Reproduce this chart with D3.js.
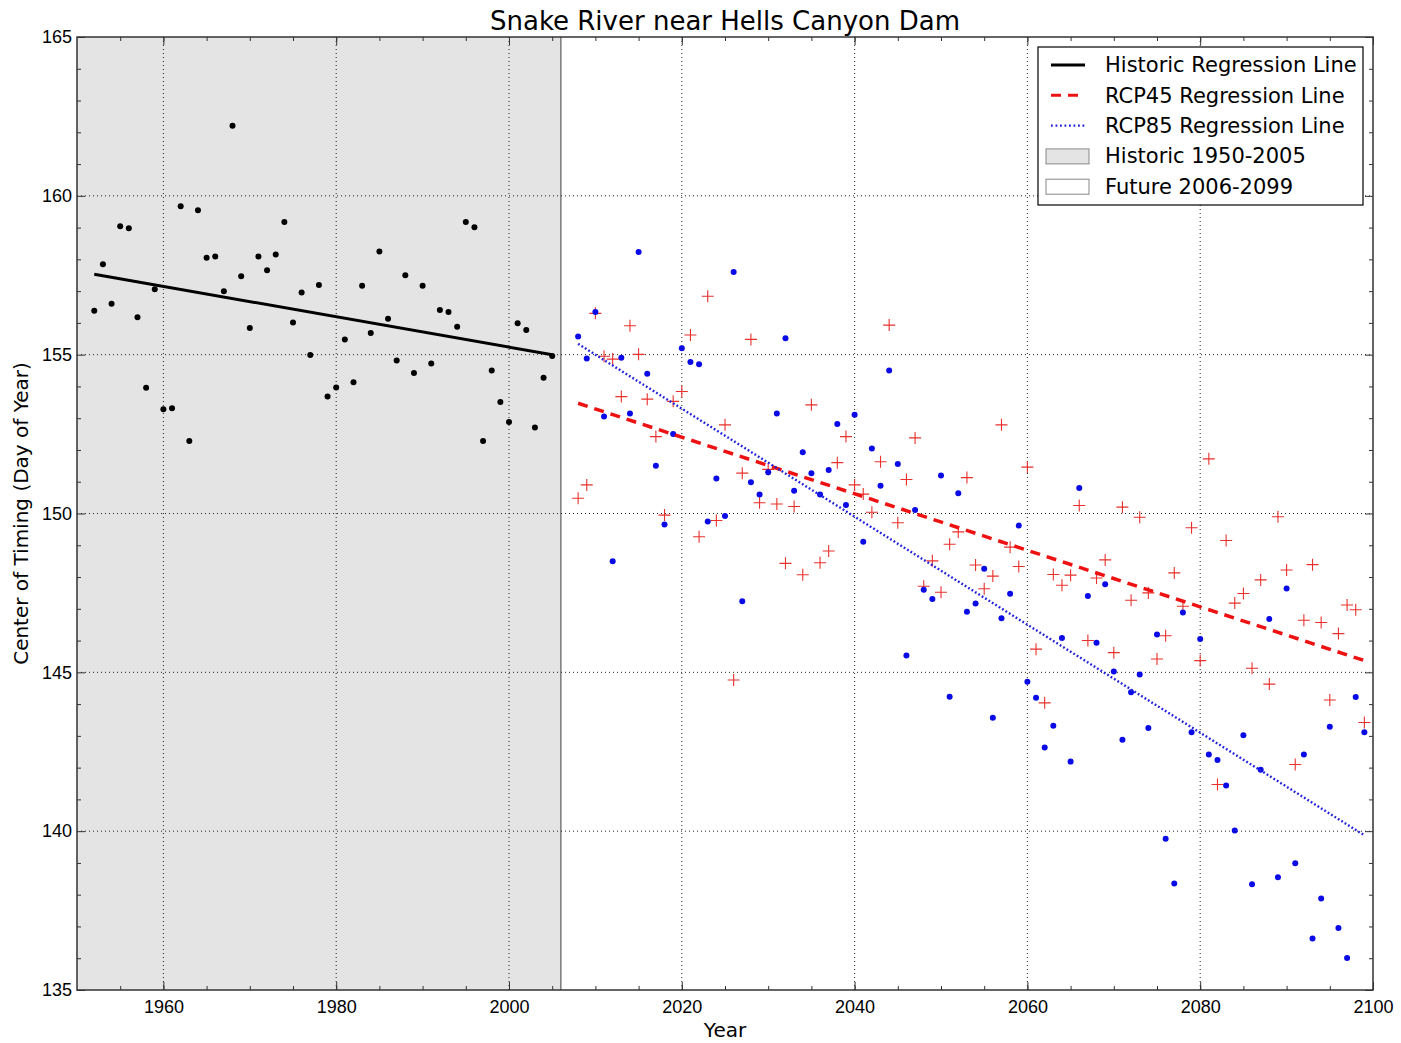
<!DOCTYPE html>
<meta charset="utf-8">
<style>

body {
	margin: 0;
	padding: 0;
	background: #fff;
}

svg {
	display: block;
	font-family: "DejaVu Sans", sans-serif;
}

.grid line {
	stroke: #222;
	stroke-width: 1;
	stroke-dasharray: 1, 3;
}

.axis text {
	font-size: 18px;
	fill: #000;
}

.axis path {
	display: none;
}

.axis line {
	stroke: #333;
	stroke-width: 1;
}

.legend text {
	font-size: 21px;
}

</style>
<body>
	<div id="chart"></div>
	<script src="https://cdn.jsdelivr.net/npm/d3@7"></script>
	<script>

	// ---- data ----
	var histYears = [1952, 1953, 1954, 1955, 1956, 1957, 1958, 1959, 1960, 1961,
		1962, 1963, 1964, 1965, 1966, 1967, 1968, 1969, 1970, 1971,
		1972, 1973, 1974, 1975, 1976, 1977, 1978, 1979, 1980, 1981,
		1982, 1983, 1984, 1985, 1986, 1987, 1988, 1989, 1990, 1991,
		1992, 1993, 1994, 1995, 1996, 1997, 1998, 1999, 2000, 2001,
		2002, 2003, 2004, 2005];
	var histValues = [156.38, 157.85, 156.6, 159.04, 158.98, 156.18, 153.96, 157.06, 153.28, 153.31,
		159.67, 152.28, 159.55, 158.05, 158.09, 157.0, 162.21, 157.47, 155.84, 158.09,
		157.66, 158.15, 159.18, 156.01, 156.96, 154.99, 157.19, 153.68, 153.97, 155.48,
		154.13, 157.17, 155.68, 158.25, 156.13, 154.82, 157.5, 154.42, 157.17, 154.72,
		156.41, 156.34, 155.88, 159.18, 159.01, 152.28, 154.5, 153.51, 152.88, 155.99,
		155.78, 152.71, 154.27, 154.96];

	var futureYears = [2008, 2009, 2010, 2011, 2012, 2013, 2014, 2015, 2016, 2017,
		2018, 2019, 2020, 2021, 2022, 2023, 2024, 2025, 2026, 2027,
		2028, 2029, 2030, 2031, 2032, 2033, 2034, 2035, 2036, 2037,
		2038, 2039, 2040, 2041, 2042, 2043, 2044, 2045, 2046, 2047,
		2048, 2049, 2050, 2051, 2052, 2053, 2054, 2055, 2056, 2057,
		2058, 2059, 2060, 2061, 2062, 2063, 2064, 2065, 2066, 2067,
		2068, 2069, 2070, 2071, 2072, 2073, 2074, 2075, 2076, 2077,
		2078, 2079, 2080, 2081, 2082, 2083, 2084, 2085, 2086, 2087,
		2088, 2089, 2090, 2091, 2092, 2093, 2094, 2095, 2096, 2097,
		2098, 2099];
	var rcp45Values = [150.48, 150.9, 156.3, 154.95, 154.86, 153.68, 155.91, 155.01, 153.6, 152.42,
		149.95, 153.53, 153.84, 155.62, 149.27, 156.84, 149.78, 152.79, 144.76, 151.27,
		155.48, 150.34, 151.39, 150.3, 148.43, 150.22, 148.07, 153.42, 148.45, 148.82,
		151.6, 152.42, 150.9, 150.61, 150.04, 151.63, 155.93, 149.71, 151.07, 152.38,
		147.71, 148.51, 147.52, 149.03, 149.42, 151.13, 148.38, 147.63, 148.03, 152.79,
		148.94, 148.33, 151.46, 145.73, 144.04, 148.08, 147.74, 148.06, 150.25, 146.0,
		147.97, 148.54, 145.62, 150.2, 147.27, 149.88, 147.5, 145.42, 146.15, 148.13,
		147.08, 149.55, 145.37, 151.72, 141.47, 149.15, 147.18, 147.48, 145.13, 147.91,
		144.63, 149.9, 148.22, 142.1, 146.64, 148.39, 146.57, 144.13, 146.22, 147.12,
		146.97, 143.42];
	var rcp85Values = [155.57, 154.88, 156.34, 153.05, 148.5, 154.9, 153.15, 158.23, 154.4, 151.5,
		149.65, 152.5, 155.2, 154.77, 154.7, 149.75, 151.1, 149.92, 157.6, 147.24,
		150.98, 150.6, 151.3, 153.15, 155.52, 150.72, 151.93, 151.27, 150.6, 151.37,
		152.82, 150.27, 153.11, 149.11, 152.05, 150.87, 154.5, 151.56, 145.53, 150.11,
		147.6, 147.31, 151.2, 144.23, 150.64, 146.91, 147.17, 148.26, 143.57, 146.7,
		147.47, 149.62, 144.7, 144.2, 142.63, 143.32, 146.08, 142.19, 150.8, 147.4,
		145.93, 147.77, 145.03, 142.88, 144.37, 144.93, 143.25, 146.19, 139.76, 138.35,
		146.88, 143.11, 146.05, 142.41, 142.24, 141.44, 140.02, 143.02, 138.33, 141.93,
		146.68, 138.55, 147.64, 138.99, 142.41, 136.62, 137.88, 143.29, 136.95, 136.01,
		144.22, 143.11];

	// regression line end points
	var histFit = [[1952, 157.53], [2005, 155.0]];
	var rcp45Fit = [[2008, 153.47], [2099, 145.37]];
	var rcp85Fit = [[2008, 155.34], [2099, 139.87]];

	var historicSpan = [1950, 2006];

	var xMajorTicks = [1960, 1980, 2000, 2020, 2040, 2060, 2080, 2100];
	var xMinorTicks = [1955, 1960, 1965, 1970, 1975, 1980, 1985, 1990, 1995, 2000, 2005,
		2010, 2015, 2020, 2025, 2030, 2035, 2040, 2045, 2050, 2055, 2060, 2065, 2070,
		2075, 2080, 2085, 2090, 2095];
	var yMajorTicks = [135, 140, 145, 150, 155, 160, 165];
	var yMinorTicks = [136, 137, 138, 139, 141, 142, 143, 144, 146, 147, 148, 149,
		151, 152, 153, 154, 156, 157, 158, 159, 161, 162, 163, 164];

	var legendLabels = ["Historic Regression Line", "RCP45 Regression Line", "RCP85 Regression Line",
		"Historic 1950-2005", "Future 2006-2099"];

	// ---- layout ----
	var svgWidth = 1401,
		svgHeight = 1043,
		plotLeft = 77, plotRight = 1373, plotTop = 37, plotBottom = 990;

	var histColor = "#000",
		rcp45Color = "#e8312c",
		rcp85Color = "#0a0ae6",
		shadeColor = "#e4e4e4";

	var x = d3.scaleLinear().domain([1950, 2100]).range([plotLeft, plotRight]);
	var y = d3.scaleLinear().domain([135, 165]).range([plotBottom, plotTop]);

	var svg = d3.select("#chart").append("svg")
		.attr("width", svgWidth)
		.attr("height", svgHeight);

	// historic shading
	svg.append("rect")
		.attr("x", x(historicSpan[0]))
		.attr("y", plotTop)
		.attr("width", x(historicSpan[1]) - x(historicSpan[0]))
		.attr("height", plotBottom - plotTop)
		.attr("fill", shadeColor);

	svg.append("line")
		.attr("x1", x(historicSpan[1])).attr("x2", x(historicSpan[1]))
		.attr("y1", plotTop).attr("y2", plotBottom)
		.attr("stroke", "#7a7a7a")
		.attr("stroke-width", 1.5);

	// grid
	var grid = svg.append("g").attr("class", "grid");
	grid.selectAll(".gx")
		.data(xMajorTicks.filter(function (d) { return d > 1950 && d < 2100; }))
		.enter().append("line")
		.attr("x1", function (d) { return x(d); })
		.attr("x2", function (d) { return x(d); })
		.attr("y1", plotTop).attr("y2", plotBottom);
	grid.selectAll(".gy")
		.data(yMajorTicks.filter(function (d) { return d > 135 && d < 165; }))
		.enter().append("line")
		.attr("x1", plotLeft).attr("x2", plotRight)
		.attr("y1", function (d) { return y(d); })
		.attr("y2", function (d) { return y(d); });

	// axes, ticks point inward on all four sides
	svg.append("g").attr("class", "axis")
		.attr("transform", "translate(0," + plotBottom + ")")
		.call(d3.axisBottom(x).tickValues(xMajorTicks).tickSizeInner(-8).tickSizeOuter(0)
			.tickPadding(10).tickFormat(d3.format("d")));
	svg.append("g").attr("class", "axis")
		.attr("transform", "translate(0," + plotBottom + ")")
		.call(d3.axisBottom(x).tickValues(xMinorTicks).tickSize(-4).tickFormat(""));
	svg.append("g").attr("class", "axis")
		.attr("transform", "translate(0," + plotTop + ")")
		.call(d3.axisTop(x).tickValues(xMajorTicks).tickSize(-8).tickFormat(""));
	svg.append("g").attr("class", "axis")
		.attr("transform", "translate(0," + plotTop + ")")
		.call(d3.axisTop(x).tickValues(xMinorTicks).tickSize(-4).tickFormat(""));

	svg.append("g").attr("class", "axis")
		.attr("transform", "translate(" + plotLeft + ",0)")
		.call(d3.axisLeft(y).tickValues(yMajorTicks).tickSizeInner(-8).tickSizeOuter(0)
			.tickPadding(5).tickFormat(d3.format("d")));
	svg.append("g").attr("class", "axis")
		.attr("transform", "translate(" + plotLeft + ",0)")
		.call(d3.axisLeft(y).tickValues(yMinorTicks).tickSize(-4).tickFormat(""));
	svg.append("g").attr("class", "axis")
		.attr("transform", "translate(" + plotRight + ",0)")
		.call(d3.axisRight(y).tickValues(yMajorTicks).tickSize(-8).tickFormat(""));
	svg.append("g").attr("class", "axis")
		.attr("transform", "translate(" + plotRight + ",0)")
		.call(d3.axisRight(y).tickValues(yMinorTicks).tickSize(-4).tickFormat(""));

	// points
	svg.append("g").selectAll("circle")
		.data(histYears)
		.enter().append("circle")
		.attr("cx", function (d) { return x(d); })
		.attr("cy", function (d, i) { return y(histValues[i]); })
		.attr("r", 3)
		.attr("fill", histColor);

	svg.append("g").selectAll("path")
		.data(futureYears)
		.enter().append("path")
		.attr("transform", function (d, i) { return "translate(" + x(d) + "," + y(rcp45Values[i]) + ")"; })
		.attr("d", "M-6,0H6M0,-6V6")
		.attr("stroke", rcp45Color)
		.attr("stroke-width", 1.1)
		.attr("fill", "none");

	svg.append("g").selectAll("circle")
		.data(futureYears)
		.enter().append("circle")
		.attr("cx", function (d) { return x(d); })
		.attr("cy", function (d, i) { return y(rcp85Values[i]); })
		.attr("r", 3)
		.attr("fill", rcp85Color);

	// regression lines
	var line = d3.line()
		.x(function (d) { return x(d[0]); })
		.y(function (d) { return y(d[1]); });

	svg.append("path").datum(histFit)
		.attr("d", line)
		.attr("stroke", histColor).attr("stroke-width", 3).attr("fill", "none");
	svg.append("path").datum(rcp45Fit)
		.attr("d", line)
		.attr("stroke", "#ee1111").attr("stroke-width", 3.5)
		.attr("stroke-dasharray", "10,7").attr("fill", "none");
	svg.append("path").datum(rcp85Fit)
		.attr("d", line)
		.attr("stroke", "#2222dd").attr("stroke-width", 2.4)
		.attr("stroke-dasharray", "1.8,2.2").attr("fill", "none");

	// frame
	svg.append("rect")
		.attr("x", plotLeft).attr("y", plotTop)
		.attr("width", plotRight - plotLeft).attr("height", plotBottom - plotTop)
		.attr("fill", "none")
		.attr("stroke", "#333")
		.attr("stroke-width", 1.5);

	// titles
	svg.append("text")
		.attr("x", (plotLeft + plotRight) / 2)
		.attr("y", 30)
		.attr("text-anchor", "middle")
		.style("font-size", "26px")
		.text("Snake River near Hells Canyon Dam");

	svg.append("text")
		.attr("x", (plotLeft + plotRight) / 2)
		.attr("y", 1037)
		.attr("text-anchor", "middle")
		.style("font-size", "20px")
		.text("Year");

	svg.append("text")
		.attr("transform", "translate(28," + ((plotTop + plotBottom) / 2) + ") rotate(-90)")
		.attr("text-anchor", "middle")
		.style("font-size", "20px")
		.text("Center of Timing (Day of Year)");

	// legend
	var legend = svg.append("g").attr("class", "legend");
	legend.append("rect")
		.attr("x", 1038).attr("y", 47)
		.attr("width", 325).attr("height", 158)
		.attr("fill", "#fff")
		.attr("stroke", "#000")
		.attr("stroke-width", 1.2);

	var rowY = function (i) { return 65 + i * 30.3; };

	legend.append("line")
		.attr("x1", 1051).attr("x2", 1085).attr("y1", rowY(0)).attr("y2", rowY(0))
		.attr("stroke", histColor).attr("stroke-width", 3);
	legend.append("line")
		.attr("x1", 1051).attr("x2", 1085).attr("y1", rowY(1)).attr("y2", rowY(1))
		.attr("stroke", "#ee1111").attr("stroke-width", 3)
		.attr("stroke-dasharray", "10,7");
	legend.append("line")
		.attr("x1", 1051).attr("x2", 1085).attr("y1", rowY(2)).attr("y2", rowY(2))
		.attr("stroke", "#2222dd").attr("stroke-width", 2.2)
		.attr("stroke-dasharray", "1.8,2.7");
	legend.append("rect")
		.attr("x", 1046).attr("y", rowY(3) - 7).attr("width", 43).attr("height", 15)
		.attr("fill", shadeColor).attr("stroke", "#888");
	legend.append("rect")
		.attr("x", 1046).attr("y", rowY(4) - 7).attr("width", 43).attr("height", 15)
		.attr("fill", "#fff").attr("stroke", "#888");

	legend.selectAll("text")
		.data(legendLabels)
		.enter().append("text")
		.attr("x", 1105)
		.attr("y", function (d, i) { return rowY(i); })
		.attr("dy", "0.35em")
		.text(function (d) { return d; });

	</script>
</body>
